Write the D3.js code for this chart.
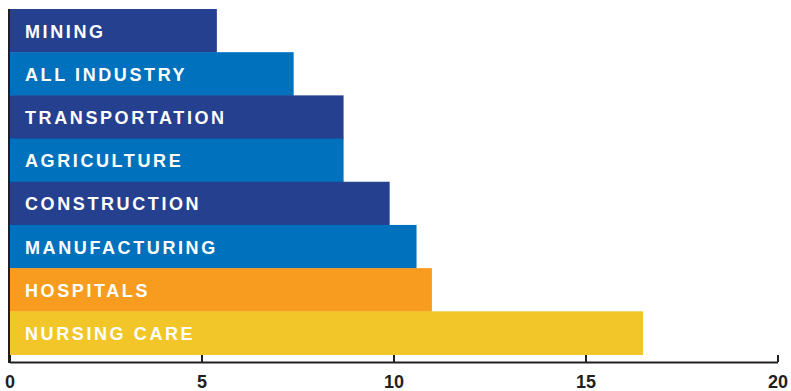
<!DOCTYPE html>
<html><head><meta charset="utf-8">
<script src="https://cdn.jsdelivr.net/npm/d3@7"></script>
<style>body{margin:0;background:#fff}svg{display:block}</style>
</head><body>
<svg id="c" width="791" height="391"></svg>
<script>
const categories = ["MINING","ALL INDUSTRY","TRANSPORTATION","AGRICULTURE","CONSTRUCTION","MANUFACTURING","HOSPITALS","NURSING CARE"];
const values = [5.4, 7.4, 8.7, 8.7, 9.9, 10.6, 11.0, 16.5];
const barColors = ["#25408F","#0071BC","#25408F","#0071BC","#25408F","#0071BC","#F89C1F","#F2C629"];
const tickValues = [0, 5, 10, 15, 20];

const svg = d3.select("#c");
const x = d3.scaleLinear().domain([0, 20]).range([9.5, 777.5]);
const y = d3.scaleBand().domain(categories).range([9, 354.5]).padding(0);

svg.append("g").selectAll("rect").data(categories).join("rect")
  .attr("x", x(0))
  .attr("y", d => y(d))
  .attr("width", (d, i) => x(values[i]) - x(0))
  .attr("height", y.bandwidth() + 0.5)
  .attr("fill", (d, i) => barColors[i]);

svg.append("g").selectAll("text").data(categories).join("text")
  .attr("x", 25)
  .attr("y", d => y(d) + y.bandwidth() / 2 + 7)
  .attr("fill", "#fff")
  .attr("font-family", "Liberation Sans, Arial, sans-serif")
  .attr("font-weight", "bold")
  .attr("font-size", "18px")
  .attr("letter-spacing", "2.6px")
  .text(d => d);

const axis = d3.axisBottom(x).tickValues(tickValues).tickSizeInner(-7).tickSizeOuter(0).tickPadding(13).tickFormat(d3.format("d"));
const ag = svg.append("g").attr("transform", "translate(0,362)").call(axis);
ag.select(".domain").attr("stroke", "#231F20").attr("stroke-width", 2);
ag.selectAll(".tick line").attr("stroke", "#231F20").attr("stroke-width", 2);
ag.selectAll(".tick text").attr("fill", "#231F20")
  .attr("font-family", "Liberation Sans, Arial, sans-serif")
  .attr("font-weight", "bold").attr("font-size", "18px");

svg.append("line")
  .attr("x1", x(0) - 0.5).attr("x2", x(0) - 0.5)
  .attr("y1", y.range()[0]).attr("y2", 363)
  .attr("stroke", "#231F20").attr("stroke-width", 2);
</script>
</body></html>
